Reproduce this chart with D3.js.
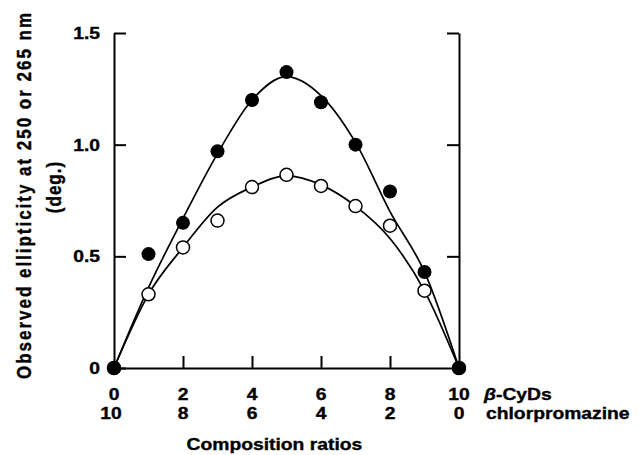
<!DOCTYPE html>
<html>
<head>
<meta charset="utf-8">
<script src="https://cdn.jsdelivr.net/npm/d3@7"></script>
<style>
  body { margin: 0; background: #fff; }
  text { font-family: "Liberation Sans", Arial, sans-serif; font-weight: bold; fill: #000; stroke: #000; stroke-width: 0.35px; }
</style>
</head>
<body>
<div id="chart-area"></div>
<script>

// data
let ratios = [0, 1, 2, 3, 4, 5, 6, 7, 8, 9, 10];
let filledValues = [0, 0.51, 0.65, 0.97, 1.20, 1.325, 1.19, 1.00, 0.79, 0.43, 0];
let openValues = [0, 0.33, 0.54, 0.66, 0.81, 0.865, 0.815, 0.725, 0.637, 0.346, 0];

// fitted curves (read at integer ratios)
let fitFilled = [0, 0.36, 0.67, 0.96, 1.20, 1.305, 1.22, 1.01, 0.70, 0.43, 0];
let fitOpen = [0, 0.33, 0.54, 0.72, 0.81, 0.86, 0.82, 0.725, 0.58, 0.345, 0];

let cydLabels = ["0", "2", "4", "6", "8", "10"];
let cpzLabels = ["10", "8", "6", "4", "2", "0"];
let xTicks = [0, 2, 4, 6, 8, 10];
let yTicks = [0, 0.5, 1.0, 1.5];

let margin = {top: 33, right: 182, bottom: 87, left: 114};
let width = 641 - margin.left - margin.right;
let height = 455 - margin.top - margin.bottom;

let fontSize = 16.5;
let stretch = 1.17;   // the scanned lettering is wider than Helvetica

let svg = d3.select("#chart-area").append("svg")
		.attr("width", 641)
		.attr("height", 455)
	.append("g")
		.attr("transform", "translate(" + margin.left + "," + margin.top + ")");

let x = d3.scaleLinear().domain([0, 10]).range([0, width]);
let y = d3.scaleLinear().domain([0, 1.5]).range([height, 0]);

// horizontal label helper
function label(px, py, anchor) {
	return svg.append("text")
		.attr("transform", "translate(" + px + "," + py + ") scale(" + stretch + ",1)")
		.attr("text-anchor", anchor)
		.style("font-size", fontSize + "px");
}

// axes, ticks pointing inward
let yAxis = d3.axisLeft(y)
	.tickValues(yTicks)
	.tickSizeInner(-12)
	.tickSizeOuter(0)
	.tickFormat("");

let yAxisRight = d3.axisRight(y)
	.tickValues([0.5, 1.0, 1.5])
	.tickSizeInner(-12)
	.tickSizeOuter(0)
	.tickFormat("");

let xAxis = d3.axisBottom(x)
	.tickValues([2, 4, 6, 8])
	.tickSizeInner(-12)
	.tickSizeOuter(0)
	.tickFormat("");

svg.append("g").attr("class", "y-axis").call(yAxis);
svg.append("g").attr("class", "y-axis-right").attr("transform", "translate(" + width + ",0)").call(yAxisRight);
svg.append("g").attr("class", "x-axis").attr("transform", "translate(0," + height + ")").call(xAxis);

svg.selectAll(".domain, .tick line")
	.attr("stroke", "#000")
	.attr("stroke-width", 2);

// y tick labels
yTicks.forEach(v => {
	label(-14, y(v) + 6, "end").text(v === 0 ? "0" : d3.format(".1f")(v));
});

// two rows of ratio labels
xTicks.forEach((v, i) => {
	label(x(v), height + 32, "middle").text(cydLabels[i]);
	label(x(v) - (cpzLabels[i].length > 1 ? 3 : 0), height + 51, "middle").text(cpzLabels[i]);
});

let cyd = label(width + 25, height + 32, "start");
cyd.append("tspan").style("font-style", "italic").text("β");
cyd.append("tspan").text("-CyDs");

label(width + 27, height + 51, "start").text("chlorpromazine");

label(x(4.65), height + 82, "middle").text("Composition  ratios");

// y title, two lines
svg.append("text")
	.attr("transform", "translate(" + (31 - margin.left) + "," + (196 - margin.top) + ") rotate(-90) scale(1," + stretch + ")")
	.attr("text-anchor", "middle")
	.style("font-size", "17px")
	.attr("textLength", 366)
	.attr("lengthAdjust", "spacing")
	.text("Observed ellipticity at 250 or 265 nm");

svg.append("text")
	.attr("transform", "translate(" + (61 - margin.left) + "," + (187 - margin.top) + ") rotate(-90) scale(1," + stretch + ")")
	.attr("text-anchor", "middle")
	.style("font-size", "17px")
	.style("letter-spacing", "1px")
	.text("(deg.)");

// fitted curves
let line = d3.line()
	.x((d, i) => x(ratios[i]))
	.y(d => y(d))
	.curve(d3.curveMonotoneX);

svg.append("path")
	.attr("class", "line")
	.attr("fill", "none")
	.attr("stroke", "black")
	.attr("stroke-width", 1.7)
	.attr("d", line(fitFilled));

svg.append("path")
	.attr("class", "line")
	.attr("fill", "none")
	.attr("stroke", "black")
	.attr("stroke-width", 1.7)
	.attr("d", line(fitOpen));

// open dots
svg.selectAll(".open-dot")
	.data(openValues)
	.enter().append("circle")
	.attr("class", "open-dot")
	.attr("cx", (d, i) => x(ratios[i]))
	.attr("cy", d => y(d))
	.attr("r", 6.5)
	.attr("fill", "white")
	.attr("stroke", "black")
	.attr("stroke-width", 1.5);

// filled dots
svg.selectAll(".filled-dot")
	.data(filledValues)
	.enter().append("circle")
	.attr("class", "filled-dot")
	.attr("cx", (d, i) => x(ratios[i]))
	.attr("cy", d => y(d))
	.attr("r", 7)
	.attr("fill", "black");

</script>
</body>
</html>
